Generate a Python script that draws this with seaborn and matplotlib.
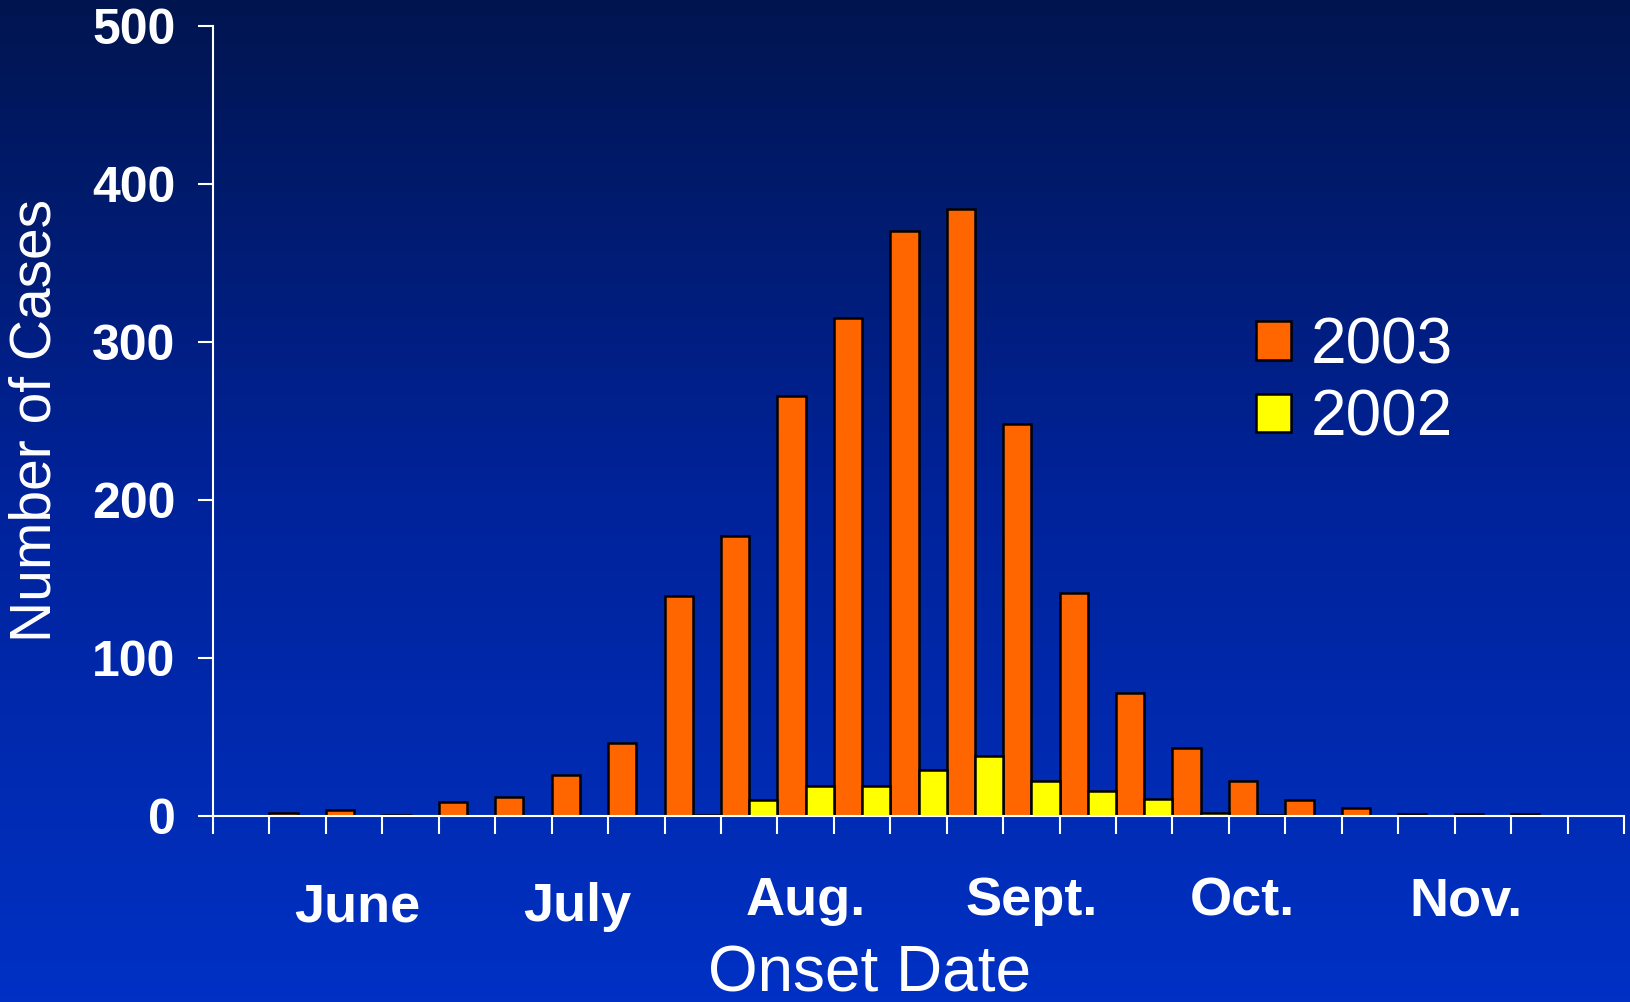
import numpy as np
import pandas as pd
import seaborn as sns
import matplotlib.pyplot as plt
from matplotlib.colors import LinearSegmentedColormap
from matplotlib.patches import Patch

# weekly bins, June -> Nov (25 bins), NaN = no bar
bins = list(range(25))
cases_2003 = [np.nan, 2, 4, 0.7, 9, 12, 26, 46, 139, 177, 266, 315, 370, 384,
              248, 141, 78, 43, 22, 10, 5, 1, 1, 1, np.nan]
cases_2002 = [np.nan, np.nan, np.nan, np.nan, np.nan, np.nan, np.nan, np.nan,
              0.7, 10, 19, 19, 29, 38, 22, 16, 11, 2, 0.7, np.nan, np.nan,
              np.nan, np.nan, np.nan, np.nan]
years = ["2003", "2002"]
months = ["June", "July", "Aug.", "Sept.", "Oct.", "Nov."]
yticks = [0, 100, 200, 300, 400, 500]

df = pd.concat([
    pd.DataFrame({"bin": bins, "cases": cases_2003, "year": "2003"}),
    pd.DataFrame({"bin": bins, "cases": cases_2002, "year": "2002"}),
]).dropna()

sns.set_theme(style="ticks")
plt.rcParams["font.family"] = ["Liberation Sans", "DejaVu Sans"]

W, H = 1630, 1002
fig = plt.figure(figsize=(W / 100, H / 100), dpi=100)

# gradient background
bg = fig.add_axes([0, 0, 1, 1], zorder=0)
cmap = LinearSegmentedColormap.from_list(
    "bg", [(0, "#00154F"), (0.5, "#01239B"), (1, "#0031C4")])
bg.imshow(np.linspace(0, 1, 256)[:, None], cmap=cmap, aspect="auto",
          extent=[0, 1, 0, 1])
bg.axis("off")

ax = fig.add_axes([213 / W, 1 - 816 / H, (1624 - 213) / W, (816 - 26) / H], zorder=1)
ax.patch.set_alpha(0)

colors = {"2003": "#FF6600", "2002": "#FFFF00"}
sns.barplot(data=df, x="bin", y="cases", hue="year", hue_order=years,
            order=bins, palette=colors, width=1.0, saturation=1,
            edgecolor="black", linewidth=1.8, errorbar=None, ax=ax)

ax.set_xlim(-0.5, 24.5)
ax.set_ylim(0, 500)
ax.set_yticks(yticks)
ax.set_yticklabels([str(v) for v in yticks], fontsize=36, fontweight="bold",
                   color="white")
ax.set_xticks(np.arange(-0.5, 25, 1))
ax.set_xticklabels([])
ax.tick_params(axis="y", length=11, width=1.5, color="white", pad=16)
ax.tick_params(axis="x", length=13, width=1.5, color="white")
ax.set_xlabel("")
ax.set_ylabel("")
ax.grid(False)
for s in ["top", "right"]:
    ax.spines[s].set_visible(False)
for s in ["left", "bottom"]:
    ax.spines[s].set_color("white")
    ax.spines[s].set_linewidth(1.5)

handles = [Patch(facecolor=colors[y], edgecolor="black", linewidth=1.8) for y in years]
ax.legend(handles, years, loc="upper left", bbox_to_anchor=(1256 / W, 1 - 316 / H),
          bbox_transform=fig.transFigure, frameon=False, fontsize=46,
          labelcolor="white", handlelength=0.55, handleheight=0.55,
          handletextpad=0.3, labelspacing=0.2, borderpad=0, borderaxespad=0)

# month labels under the axis
month_x = [357, 577, 806, 1032, 1242, 1466]
month_base = [921, 921, 915, 915, 915, 915]
for m, x, b in zip(months, month_x, month_base):
    fig.text(x / W, 1 - b / H, m, ha="center", va="baseline", fontsize=39,
             fontweight="bold", color="white")

fig.text(870 / W, 1 - 992 / H, "Onset Date", ha="center", va="baseline",
         fontsize=46, color="white")
fig.text(36 / W, 1 - 420 / H, "Number of Cases", ha="center", va="center",
         rotation=90, fontsize=41, color="white")

plt.savefig("out.png", dpi=100)
